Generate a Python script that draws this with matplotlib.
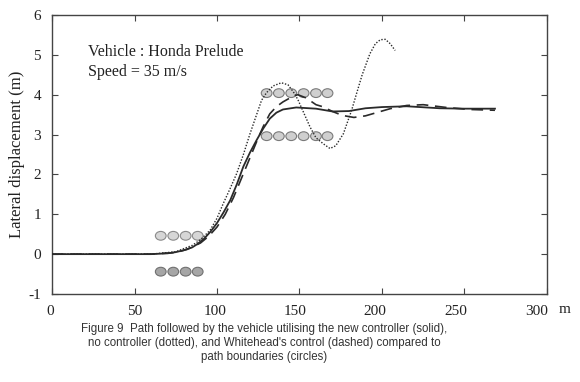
import matplotlib
matplotlib.use("Agg")
import matplotlib.pyplot as plt
import matplotlib.transforms as mtransforms
from matplotlib.patches import Ellipse

# ---------------- Dati ----------------
solid_x = [0, 60, 70, 75, 80, 85, 88, 92, 96, 100, 104, 108, 112, 116, 120, 124,
           128, 132, 136, 140, 148, 160, 170, 180, 190, 200, 215, 235, 250, 268.5]
solid_y = [0, 0, 0.02, 0.05, 0.1, 0.17, 0.25, 0.38, 0.56, 0.78, 1.05, 1.35, 1.75,
           2.2, 2.55, 2.86, 3.15, 3.4, 3.55, 3.63, 3.68, 3.65, 3.58, 3.59, 3.66,
           3.69, 3.71, 3.66, 3.65, 3.65]

dotted_x = [0, 60, 75, 85, 90, 95.8, 100, 103.8, 108, 111.9, 116, 120, 124, 127,
            130, 134, 139, 143, 146.3, 149, 152, 156.4, 160, 164.4, 168.5, 172,
            176.6, 181.6, 184.6, 188, 192.7, 196, 199, 202, 205, 208]
dotted_y = [0, 0, 0.06, 0.22, 0.36, 0.6, 0.9, 1.27, 1.65, 2.02, 2.5, 3.02, 3.5,
            3.86, 4.05, 4.22, 4.3, 4.25, 4.07, 3.88, 3.6, 3.19, 2.92, 2.77, 2.65,
            2.72, 3.02, 3.61, 4.03, 4.5, 5.03, 5.28, 5.38, 5.39, 5.28, 5.11]

dashed_x = [0, 60, 75, 82, 90, 95, 100, 105, 110, 115, 120, 125, 128, 132, 136,
            140, 146, 149, 154, 160, 164, 170, 176, 183, 190, 195, 205, 215, 225,
            239, 253, 268.5]
dashed_y = [0, 0, 0.04, 0.12, 0.28, 0.45, 0.68, 1.0, 1.42, 1.92, 2.42, 2.92, 3.2,
            3.52, 3.7, 3.82, 3.96, 4.0, 3.92, 3.75, 3.7, 3.58, 3.48, 3.43, 3.47,
            3.53, 3.65, 3.73, 3.75, 3.68, 3.63, 3.61]

# confini del percorso (cerchi)
start_x = [65.9, 73.5, 81.0, 88.3]
start_upper_y = 0.46
start_lower_y = -0.44
end_x = [130.1, 137.5, 145.0, 152.5, 160.0, 167.0]
end_upper_y = 4.04
end_lower_y = 2.96

xticks = [0, 50, 100, 150, 200, 250, 300]
yticks = [-1, 0, 1, 2, 3, 4, 5, 6]
# nella scansione le etichette x sono leggermente spostate a sinistra (px)
xlabel_shift_px = [-2, 0, -2, -4, -7, -9, -10]

# ---------------- Figura ----------------
fig = plt.figure(figsize=(5.8, 3.82), dpi=100)
ax = fig.add_axes([0.0897, 0.2304, 0.8533, 0.7303])

line_col = "#2a2a2a"
ax.plot(solid_x, solid_y, color=line_col, lw=1.3, solid_joinstyle="round", zorder=4)
ax.plot(dotted_x, dotted_y, color=line_col, lw=1.0, linestyle=(0, (1, 1.2)), zorder=4)
ax.plot(dashed_x, dashed_y, color=line_col, lw=1.2, linestyle=(0, (7, 4)), zorder=4)


def draw_row(xs, y, face, edge):
    for x in xs:
        ax.add_patch(Ellipse((x, y), width=6.5, height=0.22, facecolor=face,
                             edgecolor=edge, lw=0.8, zorder=3))


draw_row(start_x, start_upper_y, "#d6d6d6", "#8a8a8a")
draw_row(start_x, start_lower_y, "#a6a6a6", "#707070")
draw_row(end_x, end_upper_y, "#cfcfcf", "#7a7a7a")
draw_row(end_x, end_lower_y, "#cfcfcf", "#7a7a7a")

ax.set_xlim(0, 300)
ax.set_ylim(-1, 6)
ax.set_xticks(xticks)
ax.set_yticks(yticks)

serif = ["Liberation Serif", "DejaVu Serif"]
ax.set_xticklabels([str(t) for t in xticks], fontsize=11, family=serif)
ax.set_yticklabels([str(t) for t in yticks], fontsize=11, family=serif)
ax.tick_params(direction="in", length=4, width=0.8, top=True, right=True,
               colors="#444444", labelcolor="#222222", pad=8)
for lab, dx in zip(ax.get_xticklabels(), xlabel_shift_px):
    lab.set_transform(lab.get_transform() +
                      mtransforms.ScaledTranslation(dx / 100, 0, fig.dpi_scale_trans))
for s in ax.spines.values():
    s.set_color("#444444")
    s.set_linewidth(1.0)

ax.set_ylabel("Lateral displacement (m)", fontsize=12, family=serif,
              color="#222222", labelpad=2)
ax.text(1.035, -0.057, "m", transform=ax.transAxes, fontsize=11, family=serif,
        color="#222222", ha="center", va="center")

ax.text(21.8, 4.82, "Vehicle : Honda Prelude\nSpeed = 35 m/s", fontsize=11.5,
        family=serif, color="#222222", va="center", ha="left", linespacing=1.3)

caption = ("Figure 9  Path followed by the vehicle utilising the new controller (solid),\n"
           "no controller (dotted), and Whitehead's control (dashed) compared to\n"
           "path boundaries (circles)")
fig.text(0.455, 0.155, caption, ha="center", va="top", fontsize=8.3,
         family=["Liberation Sans", "DejaVu Sans"], color="#333333",
         linespacing=1.22)

fig.savefig("out.png", dpi=100)
